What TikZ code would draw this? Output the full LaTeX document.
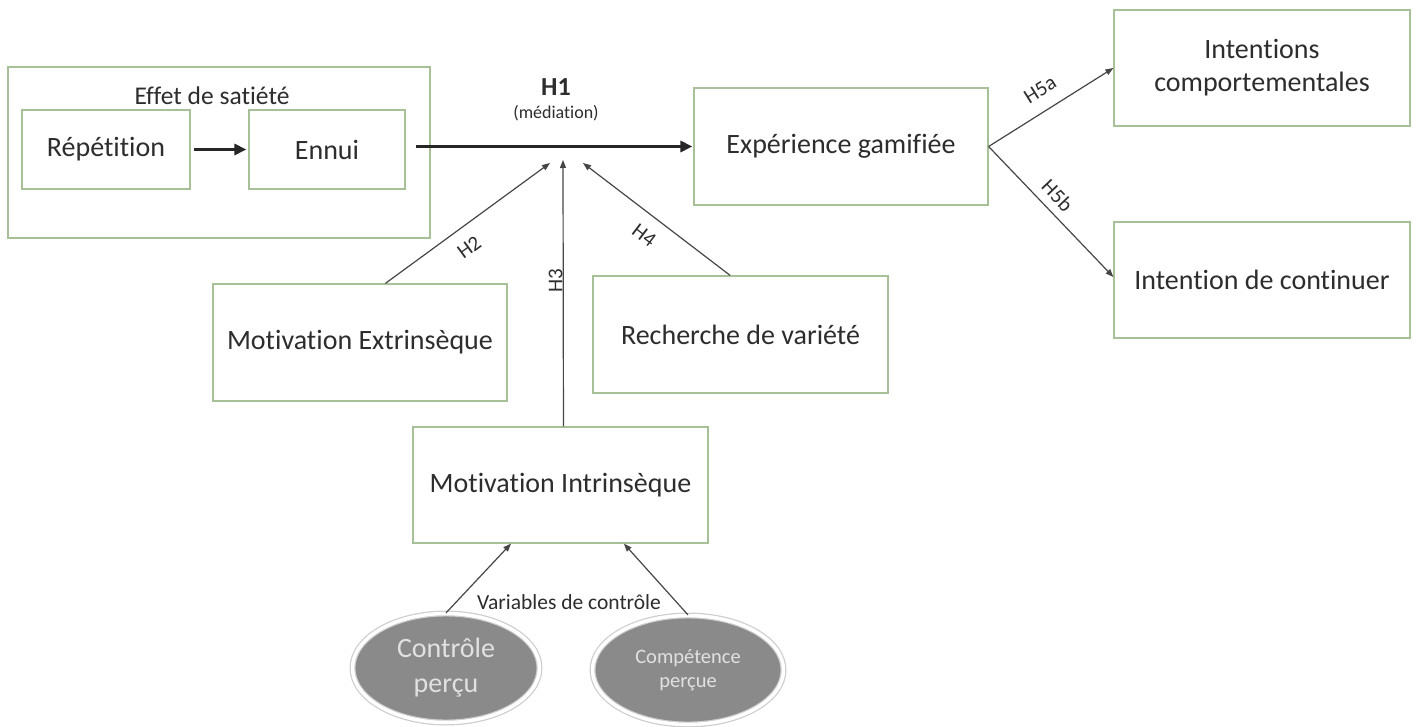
\documentclass[tikz,border=0pt]{standalone}
\usepackage{fontspec}
\setmainfont{Carlito}[Ligatures=NoCommon]
\usetikzlibrary{arrows.meta,shapes.geometric,calc}
\definecolor{boxline}{RGB}{168,192,152}
\definecolor{txt}{RGB}{45,45,45}
\definecolor{arr}{RGB}{70,70,70}
\definecolor{ellfill}{RGB}{138,138,138}
\definecolor{ellring}{RGB}{205,205,205}
\definecolor{elltxt}{RGB}{225,225,225}
\begin{document}
\begin{tikzpicture}[x=1pt,y=-1pt,
  box/.style={draw=boxline, line width=1.2pt, fill=white, text=txt, align=center, inner sep=0pt,
    font=\fontsize{28}{33}\selectfont},
  oval/.style={ellipse, draw=ellring, line width=1.2pt, double=white, double distance=3.5pt,
    fill=ellfill, text=elltxt, align=center, inner sep=0pt},
  thickarr/.style={line width=3.6pt, draw=black!85, -{Triangle[length=12pt,width=11pt]}},
  thinarr/.style={line width=1.2pt, draw=arr, -{Triangle[length=8pt,width=6pt]}},
  hlab/.style={text=txt, font=\fontsize{21}{24}\selectfont, inner sep=0pt}
]
\useasboundingbox (0,0) rectangle (1419,727);
\fill[white] (0,0) rectangle (1419,727);

% satiety group
\node[box, minimum width=422pt, minimum height=171pt] (sat) at (219,152.5) {};
\node[text=txt, font=\fontsize{25.5}{30}\selectfont] (satlab) at (212,96) {Effet de satiété};
\node[box, minimum width=168pt, minimum height=79pt] (rep) at (106,149.5) {Répétition};
\node[box, minimum width=156pt, minimum height=79pt] (ennui) at (327,149.5) {Ennui};

% main boxes
\node[box, minimum width=294pt, minimum height=117pt] (exp) at (841,146.5) {Expérience gamifiée};
\node[box, minimum width=296pt, minimum height=116pt] (ic) at (1262,68) {Intentions\\comportementales};
\node[box, minimum width=296pt, minimum height=116pt] (cont) at (1262,280) {Intention de continuer};
\node[box, minimum width=294pt, minimum height=117pt] (mext) at (360,342.5) {Motivation Extrinsèque};
\node[box, minimum width=295pt, minimum height=117pt] (rech) at (740.5,334.5) {Recherche de variété};
\node[box, minimum width=295pt, minimum height=116pt] (mint) at (560.5,485) {Motivation Intrinsèque};

% ovals
\node[oval, minimum width=187pt, minimum height=109pt, font=\fontsize{28}{35}\selectfont] (ctrl) at (446,668) {Contrôle\\perçu};
\node[oval, minimum width=191pt, minimum height=109pt, font=\fontsize{20.5}{24}\selectfont] (comp) at (688,670) {Compétence\\perçue};

% H1 labels
\node[text=txt, font=\bfseries\fontsize{26}{30}\selectfont] (h1) at (556,87) {H1};
\node[text=txt, font=\fontsize{18}{21}\selectfont] (med) at (556,113) {(médiation)};
\node[text=txt, font=\fontsize{21.5}{25}\selectfont] (varc) at (569,602) {Variables de contrôle};

% hub coordinates
\coordinate (e2) at (550,163);
\coordinate (e3) at (563,160);
\coordinate (e4) at (583,163);

% arrows
\draw[thickarr, line width=3.2pt, shorten <=3pt, shorten >=2pt] (rep.east) -- (ennui.west);
\draw[thickarr, shorten <=10pt, shorten >=1pt] (ennui.east |- exp.west) -- (exp.west);

\draw[thinarr] ($(mext.north west)!0.586!(mext.north east)$) -- (e2)
  node[hlab, pos=0.436, sloped, below=13pt] {H2};
\draw[thinarr] ($(mint.north west)!0.51!(mint.north east)$) -- (e3)
  node[hlab, pos=0.59, rotate=90, anchor=south, yshift=0pt, xshift=-11pt] {H3};
\draw[thinarr] ($(rech.north west)!0.465!(rech.north east)$) -- (e4)
  node[hlab, pos=0.5, sloped, below=13pt] {H4};

\draw[thinarr] (exp.east) -- (ic.west)
  node[hlab, pos=0.5, sloped, above=13pt] {H5a};
\draw[thinarr] (exp.east) -- ($(cont.west)+(0,-3)$)
  node[hlab, pos=0.46, sloped, above=8pt] {H5b};

\draw[thinarr] (ctrl.north) -- ($(mint.south west)!0.333!(mint.south east)$);
\draw[thinarr] (comp.north) -- ($(mint.south west)!0.714!(mint.south east)$);
\end{tikzpicture}
\end{document}
